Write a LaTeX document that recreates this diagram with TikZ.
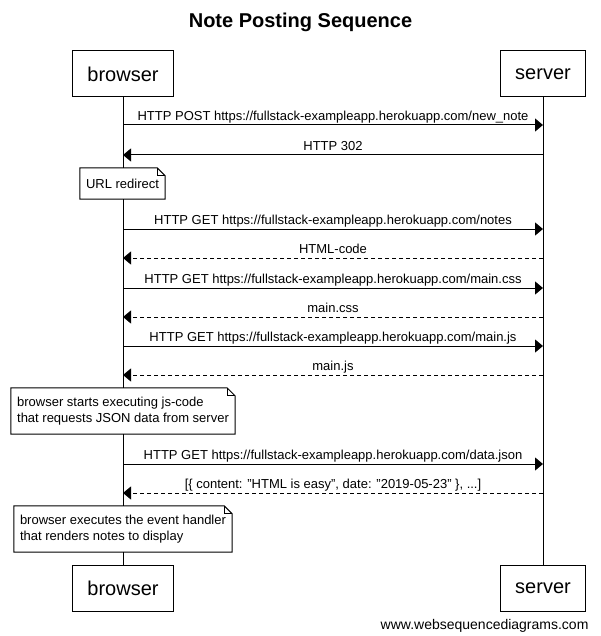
\documentclass[tikz,border=0pt]{standalone}
\usepackage{fontspec}
\setmainfont{Liberation Sans}
\usepackage{tikz}
\usetikzlibrary{arrows.meta, positioning}

\newcommand{\msgFont}{\fontsize{13}{15.5}\selectfont}
\newcommand{\drawNote}[1]{
    \draw[line width=1pt] (#1.south west) -- (#1.north west) -- ([xshift=-8pt]#1.north east) -- ([yshift=-8pt]#1.north east) -- (#1.south east) -- cycle;
    \draw[line width=1pt] ([xshift=-8pt]#1.north east) -- ([xshift=-8pt,yshift=-8pt]#1.north east) -- ([yshift=-8pt]#1.north east);
}

\begin{document}
\begin{tikzpicture}[x=1pt, y=-1pt,
    actorBox/.style={draw, line width=1pt, fill=white, inner xsep=15pt, minimum height=46pt, font=\fontsize{20}{24}\selectfont},
    noteBox/.style={fill=white, inner xsep=6pt, inner ysep=0pt, align=left, font=\msgFont},
    msgText/.style={font=\msgFont, inner sep=1pt, text height=9pt, text depth=2.6pt},
    reqArrow/.style={line width=1pt, -{Triangle[length=8pt, width=13pt]}},
    resArrow/.style={reqArrow, dash pattern=on 4pt off 3pt}
]
    \def\xB{123}
    \def\xS{543}

    \useasboundingbox (0,0) rectangle (601,636);

    % Title
    \node[anchor=base, font=\fontsize{20}{24}\selectfont\bfseries] (title) at (300.5,28) {Note Posting Sequence};

    % Participants
    \node[actorBox] (bTop) at (\xB,74) {browser};
    \node[actorBox] (sTop) at (\xS,74) {server};
    \node[actorBox] (bBot) at (\xB,588.5) {browser};
    \node[actorBox] (sBot) at (\xS,588.5) {server};

    % Lifelines
    \draw[line width=1pt] (bTop.south) -- (bBot.north);
    \draw[line width=1pt] (sTop.south) -- (sBot.north);

    % Points on the lifelines
    \coordinate (b1) at (\xB,125);  \coordinate (s1) at (\xS,125);
    \coordinate (b2) at (\xB,155);  \coordinate (s2) at (\xS,155);
    \coordinate (b3) at (\xB,229);  \coordinate (s3) at (\xS,229);
    \coordinate (b4) at (\xB,258);  \coordinate (s4) at (\xS,258);
    \coordinate (b5) at (\xB,288);  \coordinate (s5) at (\xS,288);
    \coordinate (b6) at (\xB,317);  \coordinate (s6) at (\xS,317);
    \coordinate (b7) at (\xB,346);  \coordinate (s7) at (\xS,346);
    \coordinate (b8) at (\xB,375);  \coordinate (s8) at (\xS,375);
    \coordinate (b9) at (\xB,464);  \coordinate (s9) at (\xS,464);
    \coordinate (b10) at (\xB,493); \coordinate (s10) at (\xS,493);

    % Messages
    \draw[reqArrow] (b1) -- (s1) node[midway, above, msgText] {HTTP POST https://fullstack-exampleapp.herokuapp.com/new\_note};
    \draw[reqArrow] (s2) -- (b2) node[midway, above, msgText] {HTTP 302};

    \node[noteBox, minimum height=31pt] (redirect) at (122.5,183.5) {URL redirect};
    \drawNote{redirect}

    \draw[reqArrow] (b3) -- (s3) node[midway, above, msgText] {HTTP GET https://fullstack-exampleapp.herokuapp.com/notes};
    \draw[resArrow] (s4) -- (b4) node[midway, above, msgText] {HTML-code};
    \draw[reqArrow] (b5) -- (s5) node[midway, above, msgText] {HTTP GET https://fullstack-exampleapp.herokuapp.com/main.css};
    \draw[resArrow] (s6) -- (b6) node[midway, above, msgText] {main.css};
    \draw[reqArrow] (b7) -- (s7) node[midway, above, msgText] {HTTP GET https://fullstack-exampleapp.herokuapp.com/main.js};
    \draw[resArrow] (s8) -- (b8) node[midway, above, msgText] {main.js};

    \node[noteBox, minimum height=46pt] (startJs) at (123,411) {browser starts executing js-code\\that requests JSON data from server};
    \drawNote{startJs}

    \draw[reqArrow] (b9) -- (s9) node[midway, above, msgText] {HTTP GET https://fullstack-exampleapp.herokuapp.com/data.json};
    \draw[resArrow] (s10) -- (b10) node[midway, above, msgText] {[\{ content: "HTML is easy", date: "2019-05-23" \}, ...]};

    \node[noteBox, minimum height=46pt] (handler) at (123,529) {browser executes the event handler\\that renders notes to display};
    \drawNote{handler}

    % Footer
    \node[anchor=base east, font=\fontsize{14}{17}\selectfont] (footer) at (592,629) {www.websequencediagrams.com};
\end{tikzpicture}
\end{document}
